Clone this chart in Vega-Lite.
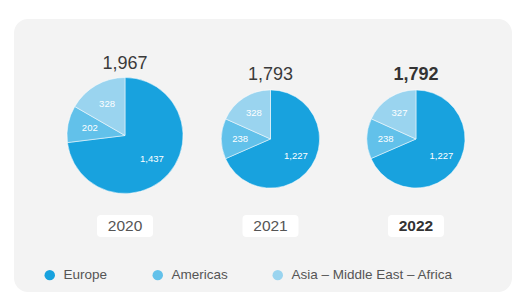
{
  "$schema": "https://vega.github.io/schema/vega-lite/v6.json",
  "width": 515,
  "height": 293,
  "autosize": {"type": "fit", "contains": "padding"},
  "padding": {"left": 14, "top": 19, "right": 3, "bottom": 1},
  "background": "#ffffff",
  "config": {
    "view": {"fill": "#f3f3f3", "stroke": null, "cornerRadius": 14},
    "font": "Liberation Sans"
  },
  "data": {
    "values": [
      {"year": 2020, "region": "Europe", "value": 1437, "rank": 1},
      {"year": 2020, "region": "Americas", "value": 202, "rank": 2},
      {"year": 2020, "region": "Asia – Middle East – Africa", "value": 328, "rank": 3},
      {"year": 2021, "region": "Europe", "value": 1227, "rank": 1},
      {"year": 2021, "region": "Americas", "value": 238, "rank": 2},
      {"year": 2021, "region": "Asia – Middle East – Africa", "value": 328, "rank": 3},
      {"year": 2022, "region": "Europe", "value": 1227, "rank": 1},
      {"year": 2022, "region": "Americas", "value": 238, "rank": 2},
      {"year": 2022, "region": "Asia – Middle East – Africa", "value": 327, "rank": 3}
    ]
  },
  "encoding": {
    "x": {"field": "year", "type": "quantitative", "scale": {"domain": [2019.237, 2022.66], "zero": false, "nice": false}, "axis": null}
  },
  "layer": [
    {
      "transform": [{"joinaggregate": [{"op": "sum", "field": "value", "as": "total"}], "groupby": ["year"]}],
      "mark": {"type": "arc", "stroke": "#ffffff", "strokeWidth": 0.5, "radius2": 0},
      "encoding": {
        "y": {"field": "total", "type": "quantitative", "scale": {"domain": [1700, 2000], "range": [121.84, 115.84], "zero": false, "nice": false}, "axis": null},
        "theta": {"field": "value", "type": "quantitative", "stack": "normalize"},
        "radius": {"field": "total", "type": "quantitative", "scale": {"type": "linear", "domain": [1700, 2000], "range": [44.3, 59.7], "zero": false, "nice": false}},
        "color": {
          "field": "region", "type": "nominal",
          "scale": {"domain": ["Europe", "Americas", "Asia – Middle East – Africa"], "range": ["#18a2de", "#62c1ea", "#9ad4ef"]},
          "legend": {"title": null, "orient": "none", "legendX": 29, "legendY": 249, "direction": "horizontal", "symbolType": "circle", "symbolSize": 110, "labelFontSize": 13.5, "labelLimit": 400, "labelColor": "#555555", "labelFont": "Liberation Sans", "columnPadding": 43, "labelOffset": 7, "symbolStrokeWidth": 0}
        },
        "order": {"field": "rank", "type": "quantitative"}
      }
    },
    {
      "transform": [{"joinaggregate": [{"op": "sum", "field": "value", "as": "total"}], "groupby": ["year"]}],
      "mark": {"type": "text", "color": "#ffffff", "fontSize": 9.5},
      "encoding": {
        "y": {"field": "total", "type": "quantitative", "scale": {"domain": [1700, 2000], "range": [121.84, 115.84], "zero": false, "nice": false}, "axis": null},
        "theta": {"field": "value", "type": "quantitative", "stack": "normalize"},
        "radius": {"field": "total", "type": "quantitative", "scale": {"type": "linear", "domain": [1700, 2000], "range": [27.5, 37], "zero": false, "nice": false}},
        "order": {"field": "rank", "type": "quantitative"},
        "text": {"field": "value", "type": "quantitative", "format": ","}
      }
    },
    {
      "transform": [
        {"filter": "datum.year < 2022"},
        {"aggregate": [{"op": "sum", "field": "value", "as": "total"}], "groupby": ["year"]}
      ],
      "mark": {"type": "text", "fontSize": 18, "color": "#3a3a3a"},
      "encoding": {
        "y": {"field": "total", "type": "quantitative", "scale": {"domain": [1700, 2000], "range": [61.8, 42.9], "zero": false, "nice": false}, "axis": null},
        "text": {"field": "total", "type": "quantitative", "format": ","}
      }
    },
    {
      "transform": [
        {"filter": "datum.year == 2022"},
        {"aggregate": [{"op": "sum", "field": "value", "as": "total"}], "groupby": ["year"]}
      ],
      "mark": {"type": "text", "fontSize": 18, "fontWeight": "bold", "color": "#333333"},
      "encoding": {
        "y": {"field": "total", "type": "quantitative", "scale": {"domain": [1700, 2000], "range": [61.8, 42.9], "zero": false, "nice": false}, "axis": null},
        "text": {"field": "total", "type": "quantitative", "format": ","}
      }
    },
    {
      "transform": [{"aggregate": [{"op": "count", "as": "n"}], "groupby": ["year"]}],
      "mark": {"type": "point", "filled": true, "color": "#ffffff", "opacity": 1, "size": 3136, "yOffset": 70.5,
        "shape": "M-0.857,-0.393H0.857Q1,-0.393,1,-0.25V0.25Q1,0.393,0.857,0.393H-0.857Q-1,0.393,-1,0.25V-0.25Q-1,-0.393,-0.857,-0.393Z"},
      "encoding": {}
    },
    {
      "transform": [
        {"filter": "datum.year < 2022"},
        {"aggregate": [{"op": "count", "as": "n"}], "groupby": ["year"]}
      ],
      "mark": {"type": "text", "fontSize": 15.5, "color": "#555555", "yOffset": 70.5},
      "encoding": {"text": {"field": "year", "type": "ordinal"}}
    },
    {
      "transform": [
        {"filter": "datum.year == 2022"},
        {"aggregate": [{"op": "count", "as": "n"}], "groupby": ["year"]}
      ],
      "mark": {"type": "text", "fontSize": 15.5, "fontWeight": "bold", "color": "#333333", "yOffset": 70.5},
      "encoding": {"text": {"field": "year", "type": "ordinal"}}
    }
  ],
  "resolve": {"scale": {"y": "independent", "radius": "independent"}}
}
